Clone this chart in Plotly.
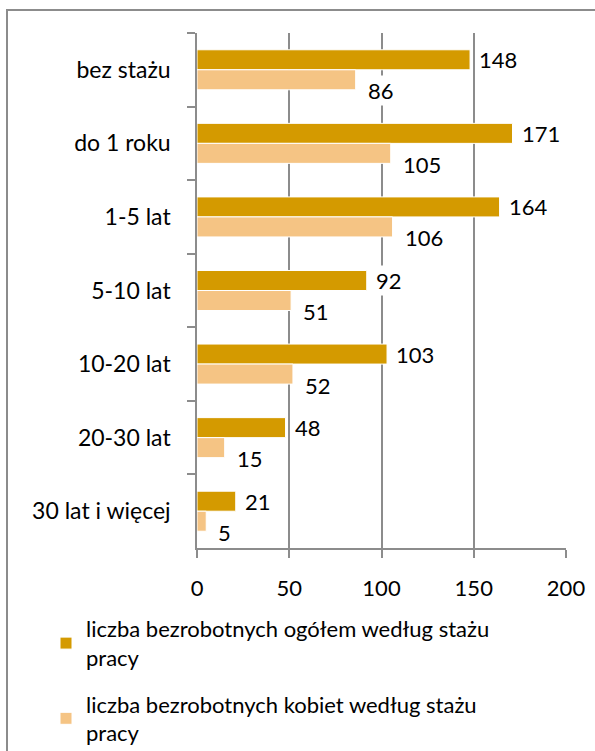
import plotly.graph_objects as go

categories = ["bez stażu", "do 1 roku", "1-5 lat", "5-10 lat", "10-20 lat", "20-30 lat", "30 lat i więcej"]
total = [148, 171, 164, 92, 103, 48, 21]
women = [86, 105, 106, 51, 52, 15, 5]
series_names = ["liczba bezrobotnych ogółem według stażu<br>pracy",
                "liczba bezrobotnych kobiet według stażu<br>pracy"]
x_ticks = [0, 50, 100, 150, 200]

DARK = "#D49A00"
LIGHT = "#F5C484"
GRID = "#8C8C8C"
FONT = "Lato"
FS = 22

W, H = 595, 751
L, R, T, B = 197, 566, 33, 548  # plot area in page pixels

fig = go.Figure()
fig.add_trace(go.Bar(y=categories, x=total, orientation="h", name=series_names[0], legendgroup="a",
                     marker=dict(color=DARK, line=dict(color="white", width=1))))
fig.add_trace(go.Bar(y=categories, x=women, orientation="h", name=series_names[1], legendgroup="b",
                     marker=dict(color=LIGHT, line=dict(color="white", width=1))))

# data labels
for c, v in zip(categories, total):
    fig.add_annotation(x=v, y=c, text=str(v), showarrow=False, xanchor="left",
                       xshift=7, yshift=10, bgcolor="white", borderpad=1,
                       font=dict(family=FONT, size=FS, color="black"))
for c, v in zip(categories, women):
    fig.add_annotation(x=v, y=c, text=str(v), showarrow=False, xanchor="left",
                       xshift=10, yshift=-21, bgcolor="white", borderpad=1,
                       font=dict(family=FONT, size=FS, color="black"))

pw, ph = R - L, B - T
# chart border
fig.add_shape(type="rect", xref="paper", yref="paper",
              x0=(7 - L) / pw, x1=(W + 20 - L) / pw, y0=(B - (H + 20)) / ph, y1=(B - 10) / ph,
              line=dict(color="#8C8C8C", width=2), fillcolor="rgba(0,0,0,0)", layer="below")

fig.update_layout(
    width=W, height=H,
    margin=dict(l=L, r=W - R, t=T, b=H - B, autoexpand=False),
    paper_bgcolor="white", plot_bgcolor="white",
    barmode="group", bargap=0.456, bargroupgap=0.0,
    font=dict(family=FONT, size=FS, color="black"),
    showlegend=True,
    legend=dict(x=(46 - L) / pw, y=(B - 608) / ph,
                xanchor="left", yanchor="top", font=dict(family=FONT, size=FS),
                itemwidth=30, tracegroupgap=15, bgcolor="rgba(0,0,0,0)",
                traceorder="grouped"),
    xaxis=dict(range=[0, 200], tickvals=x_ticks, showgrid=True, gridcolor=GRID, gridwidth=1.5,
               zeroline=False, showline=True, linecolor=GRID, linewidth=1.5,
               ticks="outside", ticklen=8, tickcolor=GRID, tickwidth=1.5, automargin=False,
               tickangle=0, ticklabelstandoff=12, tickfont=dict(family=FONT, size=FS)),
    yaxis=dict(autorange="reversed", showgrid=False, showline=True, linecolor=GRID, linewidth=1.5,
               ticks="outside", tickson="boundaries", ticklen=8, tickcolor=GRID, tickwidth=1.5,
               automargin=False, ticklabelstandoff=20, tickfont=dict(family=FONT, size=FS + 1)),
)

fig.write_html("out.html", config={"displayModeBar": False},
               post_script="document.body.style.margin='0';")
